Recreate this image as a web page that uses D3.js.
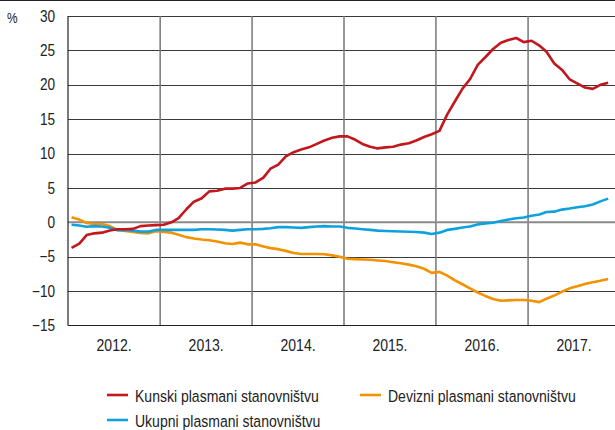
<!DOCTYPE html>
<html>
<head>
<meta charset="utf-8">
<script src="https://cdn.jsdelivr.net/npm/d3@7"></script>
<style>
  html, body { margin: 0; padding: 0; background: #fff; }
  svg { display: block; font-family: "Liberation Sans", Arial, sans-serif; }
</style>
</head>
<body>
<svg id="chart" width="615" height="430"></svg>
<script>
// Monthly annual growth rates, Jan 2012 – Nov 2017 (%)
const startYear = 2012;
const years = ["2012.", "2013.", "2014.", "2015.", "2016.", "2017."];
const yTicks = [-15, -10, -5, 0, 5, 10, 15, 20, 25, 30];

const kunski = [
  -3.7, -3.1, -1.85, -1.6, -1.5, -1.2, -1.0, -1.0, -0.95, -0.55, -0.45, -0.4,
  -0.35, 0.0, 0.6, 1.9, 3.0, 3.5, 4.5, 4.6, 4.9, 4.9, 5.0, 5.65,
  5.8, 6.5, 7.8, 8.4, 9.6, 10.2, 10.6, 10.9, 11.4, 11.9, 12.3, 12.5,
  12.5, 12.0, 11.4, 11.0, 10.75, 10.9, 11.0, 11.3, 11.5, 11.9, 12.4, 12.8,
  13.3, 15.7, 17.5, 19.4, 20.8, 22.9, 24.0, 25.2, 26.1, 26.5, 26.8, 26.2,
  26.4, 25.7, 24.8, 23.1, 22.2, 20.8, 20.2, 19.6, 19.4, 20.0, 20.3
];

const devizni = [
  0.75, 0.4, -0.1, -0.25, -0.25, -0.55, -1.1, -1.25, -1.4, -1.55, -1.6, -1.3,
  -1.4, -1.5, -1.8, -2.15, -2.35, -2.5, -2.6, -2.8, -3.05, -3.15, -2.95, -3.2,
  -3.2, -3.5, -3.75, -3.9, -4.15, -4.45, -4.6, -4.6, -4.6, -4.65, -4.8, -5.0,
  -5.3, -5.35, -5.4, -5.45, -5.55, -5.63, -5.8, -5.95, -6.15, -6.4, -6.75, -7.35,
  -7.2, -7.75, -8.4, -9.0, -9.6, -10.2, -10.7, -11.15, -11.4, -11.35, -11.3, -11.3,
  -11.4, -11.6, -11.1, -10.65, -10.1, -9.6, -9.3, -8.95, -8.7, -8.5, -8.25
];

const ukupni = [
  -0.35, -0.45, -0.65, -0.55, -0.6, -0.8, -1.15, -1.1, -1.2, -1.35, -1.35, -1.1,
  -1.1, -1.1, -1.1, -1.1, -1.1, -1.0, -1.0, -1.05, -1.1, -1.2, -1.1, -1.0,
  -1.0, -0.95, -0.85, -0.7, -0.7, -0.75, -0.8, -0.7, -0.6, -0.55, -0.6, -0.6,
  -0.8, -0.9, -1.0, -1.1, -1.2, -1.25, -1.3, -1.33, -1.36, -1.4, -1.5, -1.7,
  -1.5, -1.1, -0.95, -0.75, -0.6, -0.3, -0.15, -0.05, 0.2, 0.4, 0.6, 0.7,
  0.95, 1.15, 1.5, 1.55, 1.85, 2.0, 2.2, 2.35, 2.6, 3.05, 3.45
];

const seriesNames = [
  "Kunski plasmani stanovništvu",
  "Devizni plasmani stanovništvu",
  "Ukupni plasmani stanovništvu"
];
const seriesColors = ["#c1171d", "#f39200", "#0ea1de"];

const svg = d3.select("#chart");
const W = 615;
const plot = { left: 68, right: 620, top: 16, bottom: 325.5 };
const narrow = 0.85; // horizontal squeeze giving a condensed face

const x = d3.scaleTime()
  .domain([new Date(startYear, 0, 1), new Date(startYear + years.length, 0, 1)])
  .range([plot.left, plot.right]);
const y = d3.scaleLinear().domain([-15, 30]).range([plot.bottom, plot.top]);

const monthDate = i => new Date(startYear, i, 15);

// Condensed text placed at (px, py)
function label(g, px, py) {
  return g.attr("transform", `translate(${px},${py}) scale(${narrow},1)`);
}

// Top rule across the figure
svg.append("line")
  .attr("x1", 0).attr("x2", W).attr("y1", 0.5).attr("y2", 0.5)
  .attr("stroke", "#222").attr("stroke-width", 1);

// Horizontal grid
svg.append("g").selectAll("line")
  .data(yTicks.filter(v => v !== 0 && v !== -15))
  .join("line")
  .attr("x1", plot.left).attr("x2", W)
  .attr("y1", d => Math.round(y(d)) + 0.5).attr("y2", d => Math.round(y(d)) + 0.5)
  .attr("stroke", "#3a3a3a").attr("stroke-width", 1);

// Year separators
const yearBounds = d3.range(1, years.length).map(k => new Date(startYear + k, 0, 1));
svg.append("g").selectAll("line")
  .data(yearBounds)
  .join("line")
  .attr("x1", d => x(d)).attr("x2", d => x(d))
  .attr("y1", plot.top).attr("y2", plot.bottom)
  .attr("stroke", "#777").attr("stroke-width", 1.5);

// Zero line
svg.append("line")
  .attr("x1", plot.left).attr("x2", W)
  .attr("y1", y(0)).attr("y2", y(0))
  .attr("stroke", "#8a8a8a").attr("stroke-width", 2);

// Axis frame: left and bottom
svg.append("line")
  .attr("x1", plot.left).attr("x2", plot.left)
  .attr("y1", plot.top).attr("y2", plot.bottom)
  .attr("stroke", "#222").attr("stroke-width", 1.2);
svg.append("line")
  .attr("x1", plot.left).attr("x2", W)
  .attr("y1", plot.bottom).attr("y2", plot.bottom)
  .attr("stroke", "#222").attr("stroke-width", 1.2);

// Y tick labels
svg.append("g").selectAll("text")
  .data(yTicks)
  .join("text")
  .each(function (d) { label(d3.select(this), 55, y(d)); })
  .attr("dy", "0.35em")
  .attr("text-anchor", "end")
  .attr("font-size", 16)
  .attr("fill", "#222")
  .text(d => d < 0 ? "\u2212" + Math.abs(d) : d);

label(svg.append("text"), 7, 23)
  .attr("font-size", 14).attr("fill", "#222")
  .text("%");

// Year labels centred in each year
svg.append("g").selectAll("text")
  .data(years)
  .join("text")
  .each(function (d, k) {
    const cx = (x(new Date(startYear + k, 0, 1)) + x(new Date(startYear + k + 1, 0, 1))) / 2;
    label(d3.select(this), cx, 351);
  })
  .attr("text-anchor", "middle")
  .attr("font-size", 16.5)
  .attr("fill", "#222")
  .text(d => d);

// Series lines
const line = d3.line()
  .x((d, i) => x(monthDate(i)))
  .y(d => y(d));

svg.append("defs").append("clipPath").attr("id", "clip")
  .append("rect").attr("x", plot.left).attr("y", 0).attr("width", W - plot.left).attr("height", plot.bottom);

const lines = svg.append("g").attr("clip-path", "url(#clip)");
const drawOrder = [1, 2, 0]; // foreign, total, then kuna on top
drawOrder.forEach(idx => {
  lines.append("path")
    .datum([kunski, devizni, ukupni][idx])
    .attr("fill", "none")
    .attr("stroke", seriesColors[idx])
    .attr("stroke-width", 2.6)
    .attr("stroke-linejoin", "round")
    .attr("d", line);
});

// Legend
const legendItems = [
  { name: seriesNames[0], color: seriesColors[0], x: 107, y: 395 },
  { name: seriesNames[1], color: seriesColors[1], x: 360, y: 395 },
  { name: seriesNames[2], color: seriesColors[2], x: 107, y: 420 }
];
const lg = svg.append("g").selectAll("g").data(legendItems).join("g")
  .attr("transform", d => `translate(${d.x},${d.y})`);
lg.append("line")
  .attr("x1", 0).attr("x2", 21).attr("y1", 0).attr("y2", 0)
  .attr("stroke", d => d.color).attr("stroke-width", 2.6);
lg.append("text")
  .each(function () { label(d3.select(this), 28, 7); })
  .attr("font-size", 16.5).attr("fill", "#222")
  .text(d => d.name);
</script>
</body>
</html>
